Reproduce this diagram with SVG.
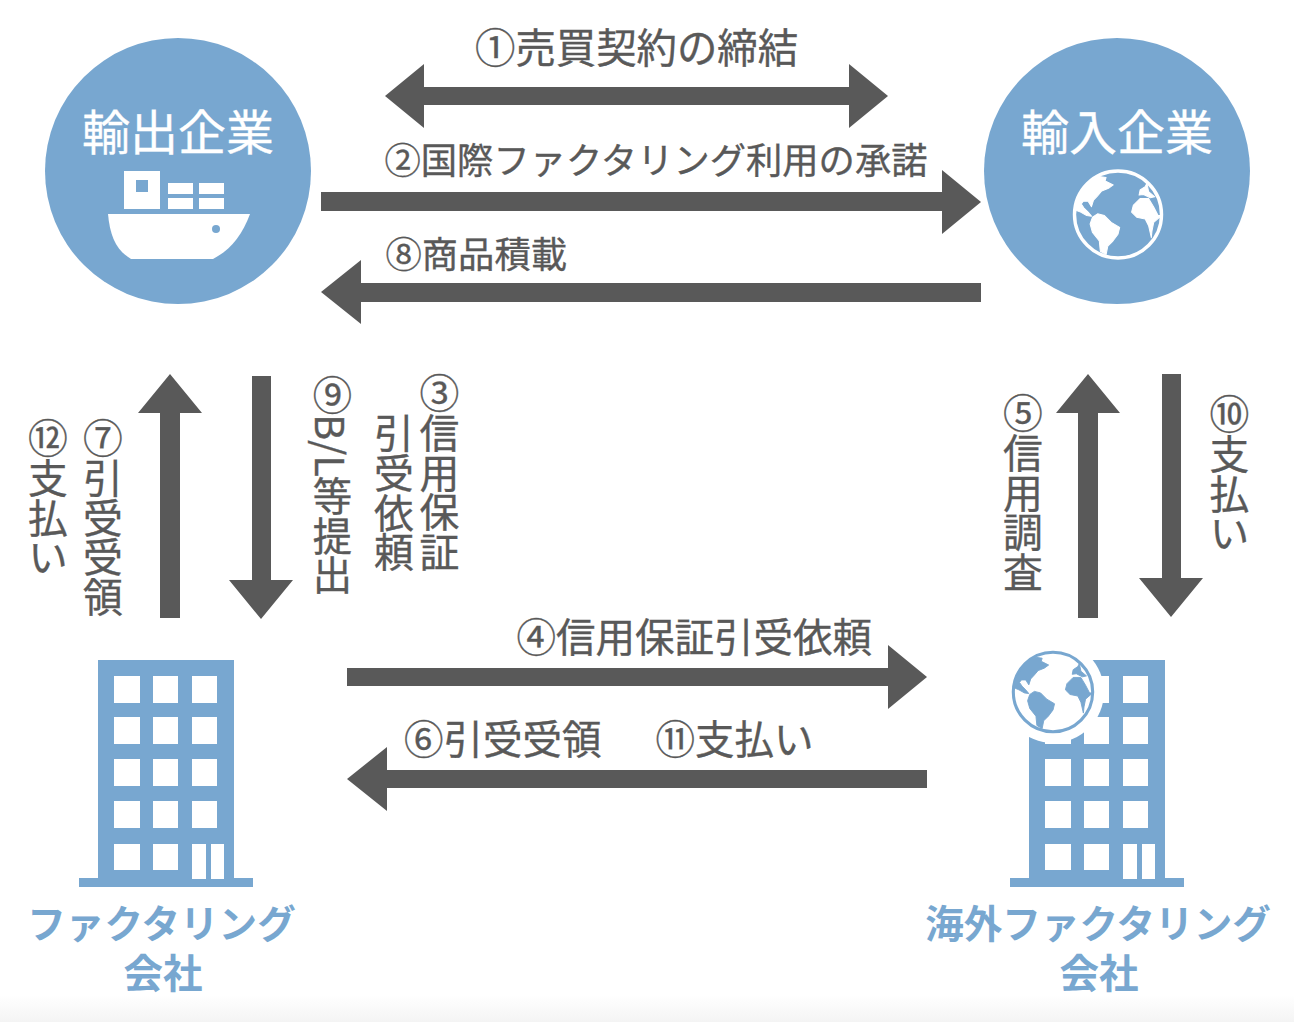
<svg xmlns="http://www.w3.org/2000/svg" width="1294" height="1022" viewBox="0 0 1294 1022">
<style>
text{font-family:"Noto Sans CJK JP","Noto Sans",sans-serif}
.l{fill:#595959;stroke:#595959;stroke-width:.35px;font-size:39.5px;font-weight:400}
.t{font-size:40.4px}
.s{font-size:36.3px}
.v{writing-mode:vertical-rl;font-size:39.8px}
.n{font-size:39.3px}
.h{fill:#fff;stroke:#fff;stroke-width:.3px;font-size:48px;text-anchor:middle}
.b{fill:#78a7d0;font-weight:700;text-anchor:middle}
.a{fill:#595959}
.blue{fill:#78a7d0}
.w{fill:#fff}
</style>
<defs>
<linearGradient id="fade" x1="0" y1="0" x2="0" y2="1"><stop offset="0" stop-color="#fff"/><stop offset="1" stop-color="#f4f4f4"/></linearGradient>
<g id="globe">
<circle r="128" fill="none" stroke="currentColor" stroke-width="10"/>
<g fill="currentColor" stroke="currentColor" stroke-width="3" stroke-linejoin="round">
<path d="M-55-112-35-109-38-99-14-87-28-77-48-69-60-55-72-42-78-23-88-39-102-39-108-31-100-19-88-7-78 5-92 3-110-7-122-12-128-17A130 130 0 0 1-55-112Z"/>
<path d="M-75 8-60-2-40 3-20 23 5 38 0 58-15 78-30 93-35 118-52 108-55 78-75 53-82 28Z"/>
<path d="M65-47 90-47 105-22 118 3 128 3 105 23 100 48 98 68 90 33 80 13 55 8 40-7 45-27Z"/>
<path d="M65-72 80-82 85-92 90-67 108-52 95-49 75-59 62-57Z"/>
</g>
</g>
<g id="building">
<path class="blue" d="M19 0H155V218H174V227H0V218H19Z"/>
<g class="w">
<rect x="35" y="16" width="26" height="27"/><rect x="74" y="16" width="25" height="27"/><rect x="113" y="16" width="25" height="27"/>
<rect x="35" y="57" width="26" height="27"/><rect x="74" y="57" width="25" height="27"/><rect x="113" y="57" width="25" height="27"/>
<rect x="35" y="99" width="26" height="27"/><rect x="74" y="99" width="25" height="27"/><rect x="113" y="99" width="25" height="27"/>
<rect x="35" y="141" width="26" height="27"/><rect x="74" y="141" width="25" height="27"/><rect x="113" y="141" width="25" height="27"/>
<rect x="35" y="184" width="26" height="26"/><rect x="74" y="184" width="25" height="26"/><rect x="113" y="184" width="14" height="35"/><rect x="132" y="184" width="13" height="35"/>
</g>
</g>
</defs>
<rect width="1294" height="1022" fill="#fff"/>
<rect y="995" width="1294" height="27" fill="url(#fade)"/>

<g id="connectors">
<path id="c1" class="a" d="M385 96 424 64V87H849V64L888 96 849 128V105H424V128Z"/>
<path id="c2" class="a" d="M321 192H942V170L981 202 942 234V211H321Z"/>
<path id="c8" class="a" d="M981 283H361V260L321 292 361 324V302H981Z"/>
<path id="c7" class="a" d="M170 374 202 413H180V618H160V413H138Z"/>
<path id="c9" class="a" d="M252 376H271V580H293L261 619 229 580H252Z"/>
<path id="c5" class="a" d="M1088 374 1120 413H1098V618H1078V413H1056Z"/>
<path id="c10" class="a" d="M1162 374H1181V578H1203L1171 617 1139 578H1162Z"/>
<path id="c4" class="a" d="M347 668H888V645L927 677 888 709V686H347Z"/>
<path id="c6" class="a" d="M927 770H387V747L347 779 387 811V788H927Z"/>
</g>

<g id="exporter">
<circle class="blue" cx="178" cy="171" r="133"/>
<text class="h" x="178" y="150">輸出企業</text>
<path class="w" d="M124 171H160V209H124ZM136 180V192H148V180ZM168 183H193V194H168ZM168 198H193V209H168ZM199 183H224V194H199ZM199 198H224V209H199Z" fill-rule="evenodd"/>
<path class="w" d="M108 214H250C242 236 230 250 213 259H131C116 250 110 236 108 214Z"/>
<circle class="blue" cx="216" cy="229" r="4"/>
</g>
<g id="importer">
<circle class="blue" cx="1117" cy="171" r="133"/>
<text class="h" x="1117" y="150">輸入企業</text>
<use href="#globe" transform="translate(1118 214.5) scale(.34)" color="#fff"/>
</g>
<g id="factoring">
<use href="#building" x="79" y="660"/>
<text class="b" x="161.500" y="938" font-size="38.600">ファクタリング</text>
<text class="b" x="163" y="988" font-size="39.500">会社</text>
</g>
<g id="overseas">
<use href="#building" x="1010" y="660"/>
<circle class="w" cx="1053" cy="692" r="51"/>
<use href="#globe" transform="translate(1053 692) scale(.31)" color="#78a7d0"/>
<text class="b" x="1098" y="938" font-size="38.600">海外ファクタリング</text>
<text class="b" x="1099" y="988" font-size="39.500">会社</text>
</g>
<g id="labels">
<text class="l t" x="475" y="63">①売買契約の締結</text>
<text class="l s" x="384.500" y="174">②国際ファクタリング利用の承諾</text>
<text class="l s" x="385.500" y="268">⑧商品積載</text>
<text class="l" x="516.500" y="651.500">④信用保証引受依頼</text>
<text class="l" x="404" y="754">⑥引受受領</text>
<text class="l" x="655.500" y="754">⑪支払い</text>
<text class="l v" x="439.500" y="373">③信用保証</text>
<text class="l v" x="394" y="413">引受依頼</text>
<text class="l v n" x="332.500" y="375">⑨B/L等提出</text>
<text class="l v" x="103" y="418">⑦引受受領</text>
<text class="l v" x="48" y="418">⑫支払い</text>
<text class="l v" x="1023" y="393">⑤信用調査</text>
<text class="l v" x="1229.500" y="394">⑩支払い</text>
</g>
</svg>
